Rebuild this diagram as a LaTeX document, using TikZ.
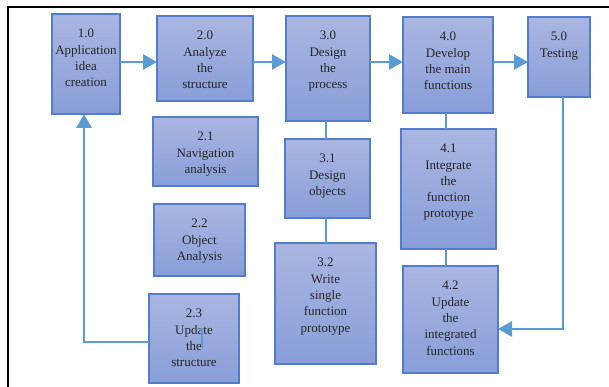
\documentclass[tikz,border=0pt]{standalone}
\usepackage{fontspec}
\setmainfont{Liberation Serif}
\usetikzlibrary{arrows.meta,calc}
\definecolor{boxtop}{RGB}{170,182,226}
\definecolor{boxbot}{RGB}{136,158,216}
\definecolor{boxedge}{RGB}{82,124,206}
\definecolor{connc}{RGB}{91,155,213}
\tikzset{
  procbox/.style={draw=boxedge, line width=1.4pt, top color=boxtop, bottom color=boxbot, inner sep=0pt, outer sep=0pt},
  boxtext/.style={anchor=north, yshift=-15pt, align=center, inner sep=0pt, text=black!85, font=\fontsize{13}{16.3}\selectfont},
  link/.style={draw=connc, line width=2.8pt},
  arrowlink/.style={link, -{Triangle[length=14pt,width=15pt]}},
  frameline/.style={draw=black, line width=2pt}
}
\newcommand\bx[6]{\node[procbox, minimum width={#4-#2}, minimum height={#5-#3}, label={[boxtext]north:#6}] (#1) at ({(#2+#4)/2},{(#3+#5)/2}) {};}
\begin{document}
\begin{tikzpicture}[x=1pt,y=-1pt]
\useasboundingbox (0,0) rectangle (609,387);
% frame
\coordinate (ftl) at (7.8,6.7);
\coordinate (ftr) at (612,6.7);
\coordinate (fbl) at (7.8,390);
\draw[frameline] (ftr) -- (ftl) -- (fbl);
% boxes
\bx{n10}{52}{14}{120}{114}{1.0\\Application\\idea\\creation}
\bx{n20}{157}{16}{253}{101}{2.0\\Analyze\\the\\structure}
\bx{n30}{286}{16}{370}{121}{3.0\\Design\\the\\process}
\bx{n40}{403}{17}{493}{113}{4.0\\Develop\\the main\\functions}
\bx{n50}{528}{17}{590}{97}{5.0\\Testing}
\bx{n21}{153}{117}{258}{186}{2.1\\Navigation\\analysis}
\bx{n31}{285}{139}{370}{218}{3.1\\Design\\objects}
\bx{n41}{401}{129}{496}{249}{4.1\\Integrate\\the\\function\\prototype}
\bx{n22}{154}{204}{245}{276}{2.2\\Object\\Analysis}
\bx{n32}{275}{243}{376}{364}{3.2\\Write\\single\\function\\prototype}
\bx{n23}{149}{294}{239}{383}{2.3\\Update\\the\\structure}
\bx{n42}{403}{266}{498}{373}{4.2\\Update\\the\\integrated\\functions}
% connectors
\coordinate (yl) at (0,62);
\draw[arrowlink] (n10.east |- yl) -- (n20.west |- yl);
\draw[arrowlink] (n20.east |- yl) -- (n30.west |- yl);
\draw[arrowlink] (n30.east |- yl) -- (n40.west |- yl);
\draw[arrowlink] (n40.east |- yl) -- (n50.west |- yl);
\coordinate (x3) at (326,0);
\draw[link] (n30.south -| x3) -- (n31.north -| x3);
\draw[link] (n31.south -| x3) -- (n32.north -| x3);
\coordinate (x4) at (446,0);
\draw[link] (n40.south -| x4) -- (n41.north -| x4);
\draw[link] (n41.south -| x4) -- (n42.north -| x4);
\coordinate (c5) at (563,329);
\draw[arrowlink] (n50.south -| c5) -- (c5) -- (n42.east |- c5);
\coordinate (c1) at (84,342);
\draw[arrowlink] (n23.west |- c1) -- (c1) -- (n10.south -| c1);
% stray mark inside 2.3
\coordinate (sm1) at (202,328);
\coordinate (sm2) at (202,348);
\draw[draw=connc, line width=1.8pt] (sm1) -- (sm2);
\end{tikzpicture}
\end{document}
